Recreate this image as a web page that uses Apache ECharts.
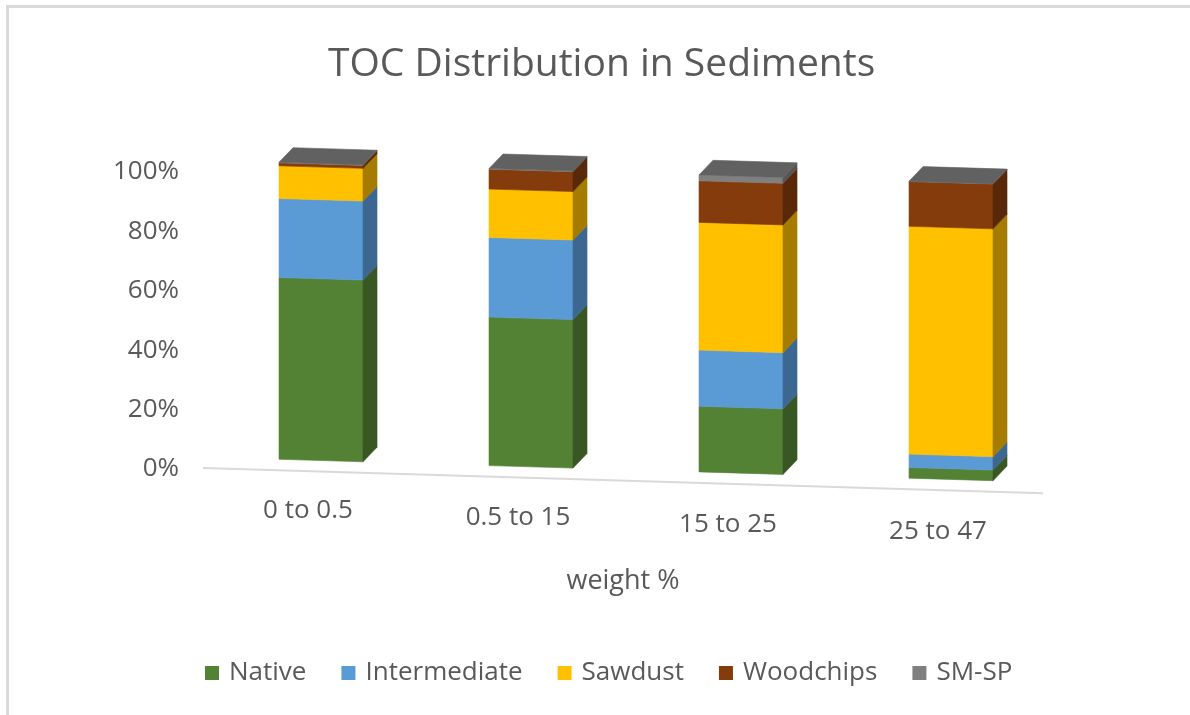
<!DOCTYPE html>
<html>
<head>
<meta charset="utf-8">
<script src="https://cdn.jsdelivr.net/npm/echarts@6/dist/echarts.min.js"></script>
<style>
html,body{margin:0;padding:0;background:#fff;}
#chart{width:1190px;height:715px;}
</style>
</head>
<body>
<div id="chart"></div>
<script>
// ---- data ----
const categories = ['0 to 0.5', '0.5 to 15', '15 to 25', '25 to 47'];
const native = [61.2, 50.0, 22.1, 3.6];
const intermediate = [26.6, 26.8, 18.9, 4.5];
const sawdust = [11.0, 16.3, 43.0, 76.7];
const woodchips = [1.0, 6.7, 14.0, 15.1];
const smsp = [0.2, 0.2, 2.0, 0.1];
const seriesNames = ['Native', 'Intermediate', 'Sawdust', 'Woodchips', 'SM-SP'];
const yTicks = [0, 20, 40, 60, 80, 100];

// ---- styles ----
const frontColors = ['#548235', '#5B9BD5', '#FFC000', '#843C0C', '#7F7F7F'];
const sideColors = ['#385723', '#3B6791', '#A57C00', '#582808', '#555555'];
const topColor = '#616161';
const SHEAR = 0.03;       // perspective tilt
const SHIFT = -12;        // bars sit behind the floor edge
const DEPTH_X = 14, DEPTH_Y = -15;

const allValues = [native, intermediate, sawdust, woodchips, smsp];
const totals = categories.map((c, i) => allValues.reduce((s, arr) => s + arr[i], 0));

function makeRender(sIdx) {
  return function (params, api) {
    const idx = api.value(0);
    let base = 0;
    for (let k = 0; k < sIdx; k++) base += allValues[k][idx] / totals[idx] * 100;
    const top = base + allValues[sIdx][idx] / totals[idx] * 100;
    const gx = params.coordSys.x;
    const cx = api.coord([idx, 0])[0];
    const bw = api.size([1, 0])[0];
    const x0 = cx - 0.138 * bw;
    const x1 = x0 + 0.4 * bw;
    const yb = api.coord([idx, base])[1];
    const yt = api.coord([idx, top])[1];
    const sh = (x, y) => [x, y + SHEAR * (x - gx) + SHIFT];
    const children = [];
    children.push({
      type: 'polygon',
      shape: { points: [sh(x0, yb), sh(x1, yb), sh(x1, yt), sh(x0, yt)] },
      style: { fill: frontColors[sIdx], stroke: frontColors[sIdx], lineWidth: 0.6 }
    });
    children.push({
      type: 'polygon',
      shape: { points: [sh(x1, yb), sh(x1 + DEPTH_X, yb + DEPTH_Y), sh(x1 + DEPTH_X, yt + DEPTH_Y), sh(x1, yt)] },
      style: { fill: sideColors[sIdx], stroke: sideColors[sIdx], lineWidth: 0.6 }
    });
    if (sIdx === allValues.length - 1) {
      children.push({
        type: 'polygon',
        shape: { points: [sh(x0, yt), sh(x1, yt), sh(x1 + DEPTH_X, yt + DEPTH_Y), sh(x0 + DEPTH_X, yt + DEPTH_Y)] },
        style: { fill: topColor, stroke: topColor, lineWidth: 0.6 }
      });
    }
    return { type: 'group', children: children };
  };
}

const series = seriesNames.map((name, s) => ({
  name: name,
  type: 'custom',
  renderItem: makeRender(s),
  itemStyle: { color: frontColors[s] },
  encode: { x: 0, y: 1 },
  data: categories.map((c, i) => [i, allValues[s][i]]),
  z: 3
}));

series.push({
  name: 'floor',
  type: 'custom',
  silent: true,
  z: 1,
  renderItem: function (params, api) {
    const gx = params.coordSys.x;
    const gw = params.coordSys.width;
    const y0 = api.coord([0, 0])[1] - 1;
    return {
      type: 'line',
      shape: { x1: gx, y1: y0, x2: gx + gw, y2: y0 + SHEAR * gw },
      style: { stroke: '#D9D9D9', lineWidth: 2 }
    };
  },
  data: [[0, 0]]
});

const chart = echarts.init(document.getElementById('chart'));
const labelRich = {};
categories.forEach((c, i) => {
  labelRich['c' + i] = { fontFamily: 'Open Sans', fontSize: 26, color: '#595959', lineHeight: 30, padding: [Math.round(2 + i * 14), 0, 0, 0] };
});

chart.setOption({
  animation: false,
  backgroundColor: '#ffffff',
  title: {
    text: 'TOC Distribution in Sediments',
    left: 323,
    top: 40,
    textStyle: { fontFamily: 'Open Sans', fontSize: 39, fontWeight: 'normal', color: '#595959' }
  },
  graphic: [{
    type: 'rect',
    shape: { x: 7.5, y: 6.5, width: 1200, height: 720 },
    style: { fill: 'none', stroke: '#D9D9D9', lineWidth: 3 },
    silent: true
  }],
  legend: {
    data: seriesNames,
    bottom: 24,
    left: 200,
    icon: 'rect',
    itemWidth: 14,
    itemHeight: 14,
    itemGap: 35,
    textStyle: { fontFamily: 'Open Sans', fontSize: 26, color: '#595959', padding: [0, 0, 0, 5] }
  },
  grid: { left: 203, right: 147, top: 172, bottom: 246, containLabel: false },
  xAxis: {
    type: 'category',
    data: categories,
    boundaryGap: true,
    name: 'weight %',
    nameLocation: 'middle',
    nameGap: 99,
    nameTextStyle: { fontFamily: 'Open Sans', fontSize: 27, color: '#595959' },
    axisLine: { show: false },
    axisTick: { show: false },
    axisLabel: {
      margin: 26,
      formatter: function (v, i) { return '{c' + i + '|' + v + '}'; },
      rich: labelRich
    },
    splitLine: { show: false }
  },
  yAxis: {
    type: 'value',
    min: yTicks[0],
    max: yTicks[yTicks.length - 1],
    interval: 20,
    axisLine: { show: false },
    axisTick: { show: false },
    splitLine: { show: false },
    axisLabel: {
      margin: 24,
      formatter: '{value}%',
      fontFamily: 'Open Sans',
      fontSize: 26,
      color: '#595959'
    }
  },
  series: series
});
</script>
</body>
</html>
